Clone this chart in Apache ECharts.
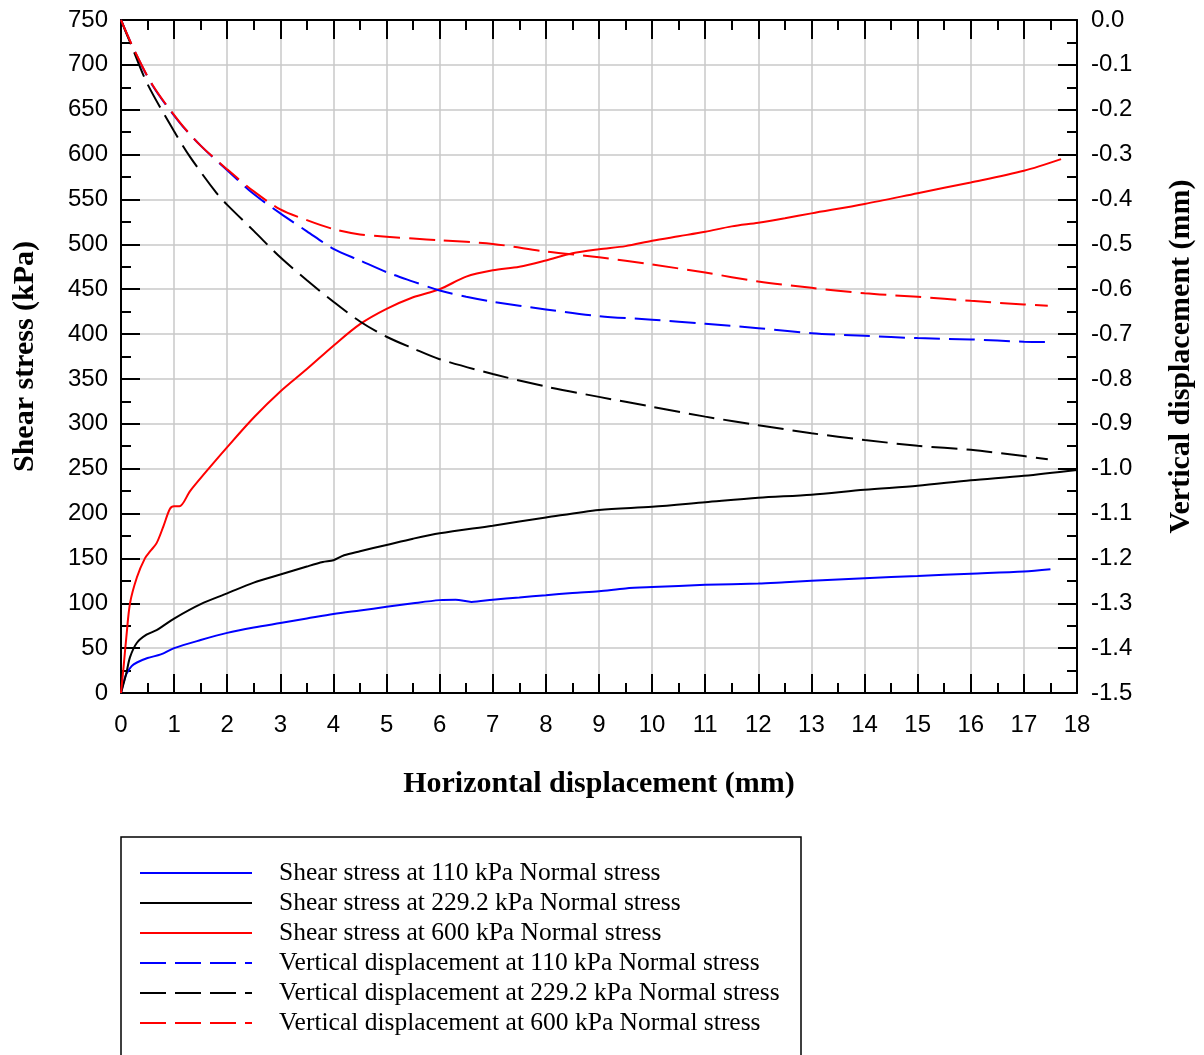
<!DOCTYPE html>
<html>
<head>
<meta charset="utf-8">
<title>Direct shear test</title>
<script src="https://cdn.jsdelivr.net/npm/echarts@6/dist/echarts.min.js"></script>
<style>
  html, body { margin: 0; padding: 0; background: #fff; }
  #chart { width: 1204px; height: 1055px; }
</style>
</head>
<body>
<div id="chart"></div>
<script>
// Horizontal displacement (mm) vs shear stress (kPa)
const shear110 = [
  [0,0],[0.05,12],[0.1,21],[0.2,30],[0.3,34],[0.5,39],[0.75,43],[1,50],[1.5,59],[2,67],
  [2.5,73],[3,78],[3.5,83],[4,88],[4.5,92],[5,96],[5.5,100],[6,103.5],[6.3,104],
  [6.6,101.5],[7,104],[7.5,106.5],[8,109],[8.5,111.5],[9,113.5],[9.5,116.5],[10,118],
  [11,120.5],[12,122],[12.5,123.5],[13,125],[14,128],[15,130.5],[16,133],[17,135.5],[17.5,138]
];
const shear229 = [
  [0,0],[0.1,22],[0.17,40],[0.3,56],[0.48,65],[0.67,70],[0.8,75],[1,83],[1.5,99],[2,111],
  [2.5,123],[3,132],[3.5,141],[3.8,146],[4,148],[4.2,153.5],[4.5,158],[5,165],[5.5,172],
  [6,178],[7,186.5],[8,195.5],[9,204],[10,207.5],[11,212.5],[12,217.5],[13,221],[14,226.5],
  [15,231],[16,237],[17,242],[18,248.5]
];
const shear600 = [
  [0,0],[0.05,30],[0.1,62],[0.17,100],[0.3,129],[0.45,150],[0.55,158],[0.67,167],[0.8,186],
  [0.92,205],[1,208],[1.1,208],[1.3,225],[1.55,243],[2,274],[2.5,307],[3,336],[3.5,361],
  [4,387],[4.5,411],[5,428],[5.5,441],[6,450],[6.5,464],[7,471],[7.5,475],[8,482],[8.5,490],
  [9,494.5],[9.5,498],[10,504],[10.5,509],[11,514],[11.5,520],[12,524],[12.5,529],[13,534.5],
  [14,545],[15,557],[16,569],[17,582],[17.7,595]
];

// Horizontal displacement (mm) vs vertical displacement (mm)
const vert110 = [
  [0,0],[0.25,-0.068],[0.6,-0.147],[1.1,-0.228],[1.5,-0.28],[2,-0.335],[2.5,-0.388],
  [3,-0.431],[3.5,-0.471],[4,-0.51],[4.5,-0.536],[5,-0.562],[5.5,-0.583],[6,-0.603],
  [6.5,-0.617],[7,-0.628],[8,-0.645],[9,-0.66],[10,-0.668],[11,-0.677],[12,-0.687],
  [13,-0.698],[14,-0.704],[15,-0.709],[16,-0.712],[17,-0.717],[17.45,-0.718]
];
const vert229 = [
  [0,0],[0.2,-0.058],[0.5,-0.143],[1,-0.248],[1.3,-0.305],[1.8,-0.386],[2,-0.412],
  [2.5,-0.47],[3,-0.529],[3.5,-0.58],[4,-0.628],[4.5,-0.672],[5,-0.706],[5.5,-0.732],
  [6,-0.756],[7,-0.789],[8,-0.817],[9,-0.84],[10,-0.862],[11,-0.884],[12,-0.903],
  [13,-0.921],[14,-0.936],[15,-0.949],[16,-0.958],[17,-0.972],[17.45,-0.979]
];
const vert600 = [
  [0,0],[0.25,-0.067],[0.6,-0.146],[1.1,-0.227],[1.5,-0.28],[2,-0.333],[2.5,-0.382],
  [3,-0.422],[3.5,-0.446],[4,-0.466],[4.5,-0.478],[5,-0.483],[5.5,-0.487],[6,-0.491],
  [7,-0.499],[8,-0.516],[9,-0.529],[10,-0.545],[11,-0.563],[12,-0.583],[13,-0.597],
  [14,-0.609],[15,-0.617],[16,-0.626],[17,-0.634],[17.45,-0.637]
];

const seriesNames = [
  'Shear stress at 110 kPa Normal stress',
  'Shear stress at 229.2 kPa Normal stress',
  'Shear stress at 600 kPa Normal stress',
  'Vertical displacement at 110 kPa Normal stress',
  'Vertical displacement at 229.2 kPa Normal stress',
  'Vertical displacement at 600 kPa Normal stress'
];
const seriesData = [shear110, shear229, shear600, vert110, vert229, vert600];
const seriesColors = ['#0000ff', '#000000', '#ff0000', '#0000ff', '#000000', '#ff0000'];

const xTicks = { min: 0, max: 18, interval: 1 };
const shearTicks = { min: 0, max: 750, interval: 50 };
const vertTicks = { min: -1.5, max: 0, interval: 0.1 };

const SANS = 'Liberation Sans, Arial, sans-serif';
const SERIF = 'Liberation Serif, Times New Roman, serif';
const DASH = [26, 9];

const axisLine = { show: true, onZero: false, lineStyle: { color: '#000', width: 2 } };
const tick = { show: true, inside: true, length: 19, lineStyle: { color: '#000', width: 2 } };
const minor = { show: true, splitNumber: 2, length: 10, lineStyle: { color: '#000', width: 2 } };
const grid = { show: true, lineStyle: { color: '#c8c8c8', width: 1.5 } };
const nameStyle = { color: '#000', fontFamily: SERIF, fontSize: 30, fontWeight: 'bold' };

const chart = echarts.init(document.getElementById('chart'), null, { renderer: 'canvas' });

const series = seriesData.map((d, i) => ({
  name: seriesNames[i],
  type: 'line',
  data: d,
  yAxisIndex: i < 3 ? 0 : 1,
  xAxisIndex: 0,
  symbol: 'none',
  smooth: 0.3,
  z: 3,
  lineStyle: { color: seriesColors[i], width: 2, type: i < 3 ? 'solid' : DASH },
  itemStyle: { color: seriesColors[i] }
}));

chart.setOption({
  animation: false,
  backgroundColor: '#fff',
  grid: { left: 121, right: 126, top: 20, bottom: 362, containLabel: false },
  xAxis: [
    {
      type: 'value', position: 'bottom', ...xTicks,
      axisLine, axisTick: tick, minorTick: minor, splitLine: grid,
      axisLabel: { color: '#000', fontFamily: SANS, fontSize: 24, margin: 20 },
      name: 'Horizontal displacement (mm)', nameLocation: 'middle', nameGap: 76,
      nameTextStyle: nameStyle
    },
    {
      type: 'value', position: 'top', ...xTicks,
      axisLine, axisTick: tick, minorTick: minor, splitLine: { show: false },
      axisLabel: { show: false }
    }
  ],
  yAxis: [
    {
      type: 'value', position: 'left', ...shearTicks,
      axisLine, axisTick: tick, minorTick: minor, splitLine: grid,
      axisLabel: { color: '#000', fontFamily: SANS, fontSize: 24, margin: 13 },
      name: 'Shear stress (kPa)', nameLocation: 'middle', nameGap: 81, nameRotate: 90,
      nameTextStyle: nameStyle
    },
    {
      type: 'value', position: 'right', ...vertTicks,
      axisLine, axisTick: tick, minorTick: minor, splitLine: { show: false },
      axisLabel: {
        color: '#000', fontFamily: SANS, fontSize: 24, margin: 14,
        formatter: v => (Math.abs(v) < 1e-9 ? '0.0' : v.toFixed(1))
      },
      name: 'Vertical displacement (mm)', nameLocation: 'middle', nameGap: 89, nameRotate: 90,
      nameTextStyle: nameStyle
    }
  ],
  legend: {
    orient: 'vertical',
    left: 139, top: 858,
    itemWidth: 112, itemHeight: 14, itemGap: 0,
    padding: 0,
    data: seriesNames,
    itemStyle: { opacity: 0 },
    textStyle: {
      color: '#000', fontFamily: SERIF, fontSize: 25.5, lineHeight: 30,
      padding: [0, 0, 0, 22]
    }
  },
  graphic: [
    {
      type: 'rect', silent: true,
      shape: { x: 121, y: 837, width: 680, height: 300 },
      style: { fill: null, stroke: '#000', lineWidth: 1.5 }
    }
  ],
  series
});
</script>
</body>
</html>
